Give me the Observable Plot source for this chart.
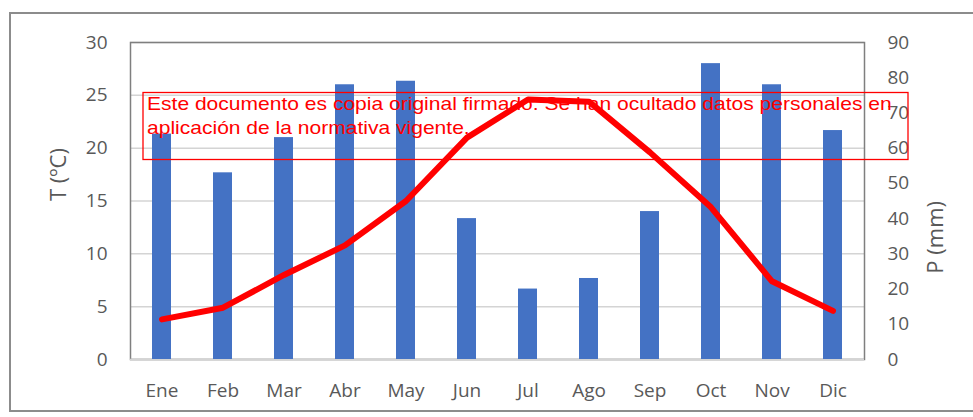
<!DOCTYPE html>
<html><head><meta charset="utf-8">
<script src="https://cdn.jsdelivr.net/npm/d3@7"></script>
<script src="https://cdn.jsdelivr.net/npm/@observablehq/plot@0.6"></script>
<style>
html,body{margin:0;padding:0;background:#fff;}
#wrap{position:relative;width:973px;height:417px;overflow:hidden;background:#fff;}
#border{position:absolute;left:9px;top:12px;width:1000px;height:400px;border:2px solid #8c8c8c;box-sizing:border-box;}
#chart{position:absolute;left:0;top:0;}
#wm{position:absolute;left:0;top:0;}
</style></head><body>
<div id="wrap"><div id="border"></div><div id="chart"></div>
<svg id="wm" width="973" height="417" xmlns="http://www.w3.org/2000/svg">
  <rect x="143" y="92.5" width="765" height="67" fill="none" stroke="#ff0000" stroke-width="1.3"></rect>
  <g id="wmtext" font-family="Liberation Sans, Arial, sans-serif" font-size="17.5" fill="#ff0000">
    <text id="wm1" x="0" y="110">Este documento es copia original firmado. Se han ocultado datos personales en</text>
    <text id="wm2" x="0" y="134">aplicación de la normativa vigente.</text>
  </g>
</svg>
</div>
<script>
const months = ["Ene","Feb","Mar","Abr","May","Jun","Jul","Ago","Sep","Oct","Nov","Dic"];
const temperature = [3.8, 4.9, 8.0, 10.8, 15.0, 21.0, 24.6, 24.4, 19.6, 14.4, 7.4, 4.6];
const precipitation = [64, 53, 63, 78, 79, 40, 20, 23, 42, 84, 78, 65];
const tempTicks = [0, 5, 10, 15, 20, 25, 30];
const precipTicks = [0, 10, 20, 30, 40, 50, 60, 70, 80, 90];

const data = months.map((m, i) => ({month: m, t: temperature[i], p: precipitation[i]}));
const pScale = 30 / 90;

const chart = Plot.plot({
  width: 973, height: 417,
  marginLeft: 130, marginRight: 109, marginTop: 42, marginBottom: 58,
  style: {fontFamily: "'Open Sans', sans-serif", fontSize: "19px", color: "#595959", background: "transparent"},
  x: {domain: months, paddingInner: 0.69, paddingOuter: 0.345, label: null},
  y: {domain: [0, 30], label: null},
  marks: [
    Plot.gridY(tempTicks, {stroke: "#d4d4d4", strokeOpacity: 1, strokeWidth: 1.5}),
    Plot.frame({stroke: "#7f7f7f", strokeWidth: 1.5}),
    Plot.ruleY([0], {stroke: "#d4d4d4", strokeWidth: 1.5}),
    Plot.barY(data, {x: "month", y: d => d.p * pScale, fill: "#4472c4"}),
    Plot.line(data, {x: "month", y: "t", stroke: "#ff0000", strokeWidth: 6, strokeLinejoin: "round", strokeLinecap: "round"}),
    Plot.axisX({tickSize: 0, tickPadding: 24, label: null}),
    Plot.axisY(tempTicks, {anchor: "left", tickSize: 0, tickPadding: 23, label: null}),
    Plot.axisY(precipTicks.map(p => p * pScale), {anchor: "right", tickSize: 0, tickPadding: 23, label: null, tickFormat: d => String(Math.round(d / pScale))}),
    Plot.text(["T (ºC)"], {frameAnchor: "left", dx: -72, rotate: -90, fontSize: 22, fill: "#595959"}),
    Plot.text(["P (mm)"], {frameAnchor: "right", dx: 71, rotate: -90, fontSize: 22, fill: "#595959"})
  ]
});
document.getElementById("chart").appendChild(chart);

const t1 = document.getElementById("wm1");
const len = t1.getComputedTextLength();
const sx = 745 / len;
document.getElementById("wmtext").setAttribute("transform", `translate(147,0) scale(${sx},1)`);
</script>
</body></html>
